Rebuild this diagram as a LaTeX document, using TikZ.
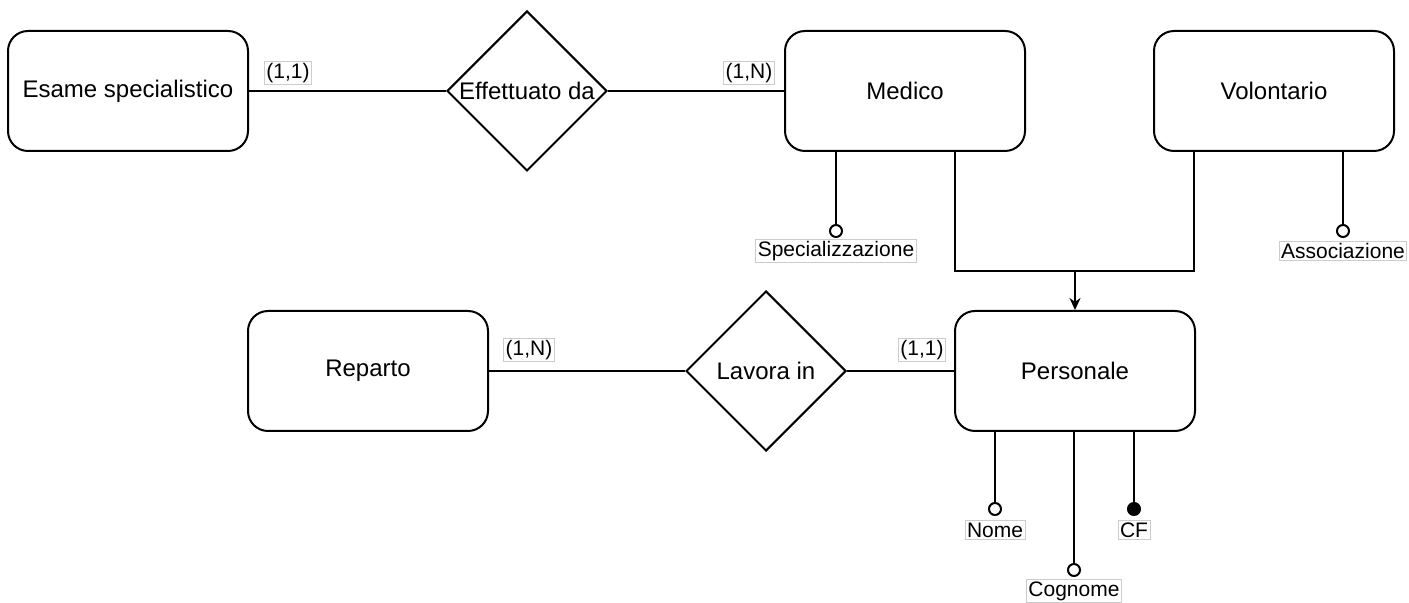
\documentclass[tikz,border=0pt]{standalone}
\usepackage{fontspec}
\setmainfont{Liberation Sans}
\usepackage{tikz}
\usetikzlibrary{positioning,shapes,arrows.meta,calc}

\begin{document}
\begin{tikzpicture}[x=0.5pt, y=-0.5pt,
    font=\fontsize{12}{14}\selectfont,
    entity/.style={rectangle, draw, line width=1pt, minimum width=120pt, minimum height=60pt, rounded corners=10pt, align=center},
    relation/.style={diamond, draw, line width=1pt, minimum width=80pt, minimum height=80pt, inner sep=0pt},
    card/.style={draw=gray!40, line width=0.4pt, inner sep=1pt, font=\fontsize{10.5}{12}\selectfont},
    attr/.style={circle, draw, line width=1pt, fill=white, inner sep=0pt, minimum size=6pt},
    keyattr/.style={attr, fill=black},
    link/.style={line width=1pt},
    arrow/.style={-{Stealth[length=6pt, width=5.5pt]}, line width=1pt}]

    \useasboundingbox (0,0) rectangle (1409,603);

    % Entities
    \node[entity] (esame) at (128,91) {Esame specialistico};
    \node[entity] (medico) at (905,91) {Medico};
    \node[entity] (volontario) at (1274,91) {Volontario};
    \node[entity] (reparto) at (368,371) {Reparto};
    \node[entity] (personale) at (1075,371) {Personale};

    % Relationships
    \node[relation] (effettuato) at (527,91) {Effettuato da};
    \node[relation] (lavora) at (766,371) {Lavora in};

    % Connect entities and relationships
    \draw[link] (esame) -- (effettuato);
    \draw[link] (effettuato) -- (medico);
    \draw[link] (reparto) -- (lavora);
    \draw[link] (lavora) -- (personale);

    % Cardinalities
    \node[card] (card1) at (288,73) {(1,1)};
    \node[card] (card2) at (749,73) {(1,N)};
    \node[card] (card3) at (529,350) {(1,N)};
    \node[card] (card4) at (922,350) {(1,1)};

    % Attributes
    \node[attr] (specdot) at (836,231) {};
    \node[card] (spec) at (836,251) {Specializzazione};
    \node[attr] (assocdot) at (1343,231) {};
    \node[card] (assoc) at (1343,251) {Associazione};
    \node[attr] (nomedot) at (995,509) {};
    \node[card] (nome) at (995,530) {Nome};
    \node[attr] (cognomedot) at (1074,570) {};
    \node[card] (cognome) at (1074,591) {Cognome};
    \node[keyattr] (cfdot) at (1134,509) {};
    \node[card] (cf) at (1134,530) {CF};

    \draw[link] (medico.south -| specdot) -- (specdot);
    \draw[link] (volontario.south -| assocdot) -- (assocdot);
    \draw[link] (personale.south -| nomedot) -- (nomedot);
    \draw[link] (personale.south -| cognomedot) -- (cognomedot);
    \draw[link] (personale.south -| cfdot) -- (cfdot);

    % Generalization
    \coordinate (join) at (1075,271);
    \draw[link] ([xshift=25pt]medico.south) |- (join);
    \draw[link] ([xshift=-40pt]volontario.south) |- (join);
    \draw[arrow] (join) -- (personale);
\end{tikzpicture}
\end{document}
